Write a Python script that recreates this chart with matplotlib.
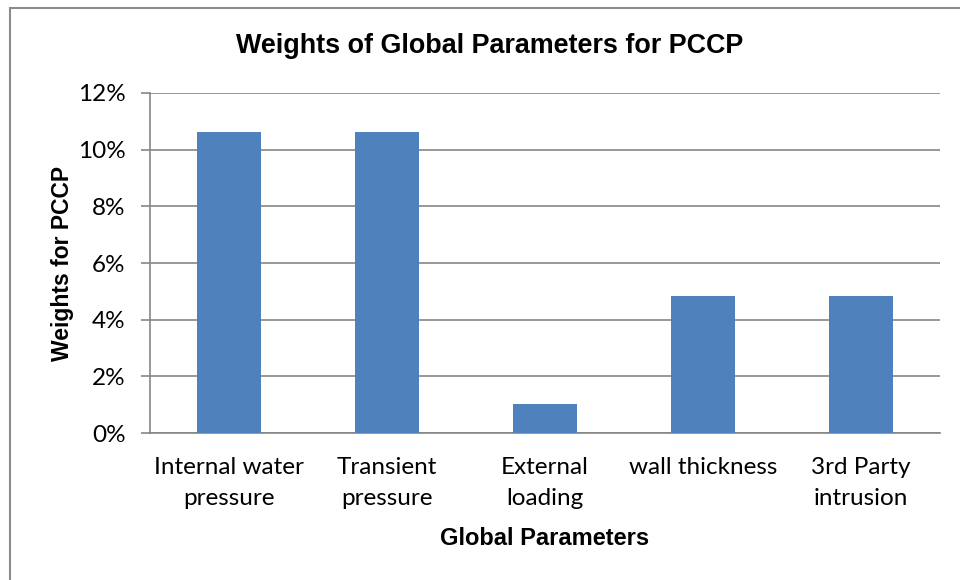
import matplotlib.pyplot as plt
from matplotlib.patches import Rectangle
from matplotlib.ticker import FuncFormatter

categories = ["Internal water\npressure", "Transient\npressure", "External\nloading",
              "wall thickness", "3rd Party\nintrusion"]
weights = [10.63, 10.63, 1.03, 4.84, 4.84]
yticks = [0, 2, 4, 6, 8, 10, 12]

bar_color = "#4F81BD"
grid_color = "#868686"

fig = plt.figure(figsize=(9.6, 5.8), dpi=100)
ax = fig.add_axes([0.156, 0.2534, 0.823, 0.5863])

x = range(len(categories))
ax.bar(x, weights, width=0.405, color=bar_color, zorder=3)

ax.set_xlim(-0.5, len(categories) - 0.5)
ax.set_ylim(0, 12)
ax.set_yticks(yticks)
ax.yaxis.set_major_formatter(FuncFormatter(lambda v, _: f"{v:.0f}%"))
ax.grid(axis="y", color=grid_color, linewidth=1.2, zorder=0)

for side in ["top", "right"]:
    ax.spines[side].set_visible(False)
for side in ["left", "bottom"]:
    ax.spines[side].set_color(grid_color)
    ax.spines[side].set_linewidth(1.2)

ax.set_xticks(list(x))
ax.set_xticklabels(categories, family="Lato", fontsize=17.5, linespacing=1.6)
ax.tick_params(axis="x", length=0, pad=17)
ax.tick_params(axis="y", length=6.5, width=1.2, color=grid_color, pad=11)
for lbl in ax.get_yticklabels():
    lbl.set_family("Lato")
    lbl.set_fontsize(17.5)

ax.set_xlabel("Global Parameters", family="Liberation Sans", fontweight="bold",
              fontsize=17, labelpad=13)
ax.set_ylabel("Weights for PCCP", family="Liberation Sans", fontweight="bold",
              fontsize=16.5, labelpad=3)
fig.suptitle("Weights of Global Parameters for PCCP", family="Liberation Sans",
             fontweight="bold", fontsize=19.4, x=0.51, y=0.943)

# chart frame, running off the right and bottom edges
fig.patches.append(Rectangle((0.0105, -0.1), 1.2, 1.0 - 8 / 580 + 0.1,
                             transform=fig.transFigure, fill=False,
                             edgecolor="#8c8c8c", linewidth=1.5))

fig.savefig("out.png", dpi=100)
